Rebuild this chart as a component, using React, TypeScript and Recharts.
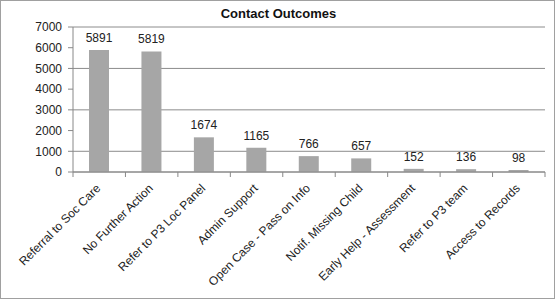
import { BarChart, Bar, XAxis, YAxis, CartesianGrid, LabelList } from 'recharts';

const categories = [
  'Referral to Soc Care',
  'No Further Action',
  'Refer to P3 Loc Panel',
  'Admin Support',
  'Open Case - Pass on Info',
  'Notif. Missing Child',
  'Early Help - Assessment',
  'Refer to P3 team',
  'Access to Records',
];
const counts = [5891, 5819, 1674, 1165, 766, 657, 152, 136, 98];
const yTicks = [0, 1000, 2000, 3000, 4000, 5000, 6000, 7000];

const data = categories.map((name, i) => ({ name, value: counts[i] }));

const W = 555;
const H = 300;
const margin = { top: 27, right: 10, left: 0, bottom: 0 };
const yAxisWidth = 73;
const step = (W - margin.right - yAxisWidth) / categories.length;
const font = '"Liberation Sans", Arial, sans-serif';

// Excel-style ticks sit between categories, so draw them by hand
const CategoryTick = (props: any) => {
  const { x, y, payload, index } = props;
  const left = x - step / 2;
  const tx = x + 2;
  const ty = y + 9;
  return (
    <g>
      <line x1={left} y1={y - 8} x2={left} y2={y - 3} stroke="#888" />
      {index === categories.length - 1 && (
        <line x1={left + step} y1={y - 8} x2={left + step} y2={y - 3} stroke="#888" />
      )}
      <text
        x={tx}
        y={ty}
        textAnchor="end"
        fontSize={12}
        fill="#222"
        fontFamily={font}
        transform={`rotate(-45 ${tx} ${ty})`}
      >
        {payload.value}
      </text>
    </g>
  );
};

export default function App() {
  return (
    <div
      style={{
        position: 'absolute',
        left: 0,
        top: 0,
        width: W - 2,
        height: H - 3,
        border: '1px solid #a0a0a0',
        background: '#fff',
        fontFamily: font,
      }}
    >
      <div
        style={{
          position: 'absolute',
          top: 5,
          left: 0,
          width: W,
          textAlign: 'center',
          fontWeight: 'bold',
          fontSize: 13,
          color: '#111',
        }}
      >
        Contact Outcomes
      </div>
      <div style={{ position: 'absolute', left: -1, top: -1 }}>
        <BarChart width={W} height={H} data={data} margin={margin} barSize={20}>
          <CartesianGrid vertical={false} stroke="#8c8c8c" />
          <XAxis
            dataKey="name"
            interval={0}
            height={128}
            tickLine={false}
            axisLine={{ stroke: '#888' }}
            tick={<CategoryTick />}
          />
          <YAxis
            width={yAxisWidth}
            domain={[0, 7000]}
            ticks={yTicks}
            axisLine={{ stroke: '#888' }}
            tickLine={{ stroke: '#888' }}
            tickSize={5}
            tickMargin={6}
            tick={{ fontSize: 12, fill: '#222', fontFamily: font }}
          />
          <Bar dataKey="value" fill="#a6a6a6" isAnimationActive={false}>
            <LabelList
              dataKey="value"
              position="top"
              offset={8}
              fontSize={12}
              fill="#222"
              fontFamily={font}
            />
          </Bar>
        </BarChart>
      </div>
    </div>
  );
}
